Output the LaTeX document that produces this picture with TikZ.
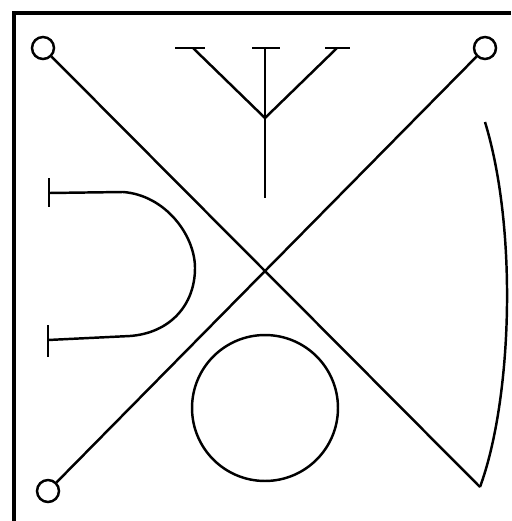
\documentclass[tikz,border=0pt]{standalone}
\tikzset{
  pen/.style={line width=1.4pt},
  terminal/.style={circle, draw, pen, minimum size=0.44cm, inner sep=0pt},
  ring/.style={circle, draw, pen, minimum size=2.92cm, inner sep=0pt},
}
\begin{document}
\begin{tikzpicture}[x=0.02cm, y=0.02cm]
        \useasboundingbox (0,0) rectangle (511,-521);
        \draw[line width=2.2pt] (14,-521) -- (14,-13) -- (511,-13);

        \node[terminal] (tl) at (43,-48) {};
        \node[terminal] (tr) at (485,-48) {};
        \node[terminal] (bl) at (48,-491) {};
        \coordinate (tip) at (480,-487);
        \coordinate (arctop) at (485,-122);

        \draw[pen] (tl) -- (tip);
        \draw[pen] (bl) -- (tr);
        \draw[pen] (arctop) .. controls (518,-230) and (512,-400) .. (tip);

        \coordinate (fork) at (265,-118);
        \coordinate (stem) at (265,-198);
        \draw[pen] (175,-48) -- (205,-48);
        \draw[pen] (252,-48) -- (280,-48);
        \draw[pen] (325,-48) -- (350,-48);
        \draw[pen] (193,-48) -- (fork) -- (337,-48);
        \draw[pen] (265,-48) -- (stem);

        \draw[pen] (49,-178) -- (49,-207);
        \draw[pen] (48,-325) -- (48,-357);
        \draw[pen] (49,-193) -- (123,-192)
            .. controls (165,-195) and (195,-235) .. (195,-268)
            .. controls (195,-305) and (170,-333) .. (130,-336) -- (48,-340);

        \node[ring] (disc) at (265,-408) {};
\end{tikzpicture}
\end{document}
